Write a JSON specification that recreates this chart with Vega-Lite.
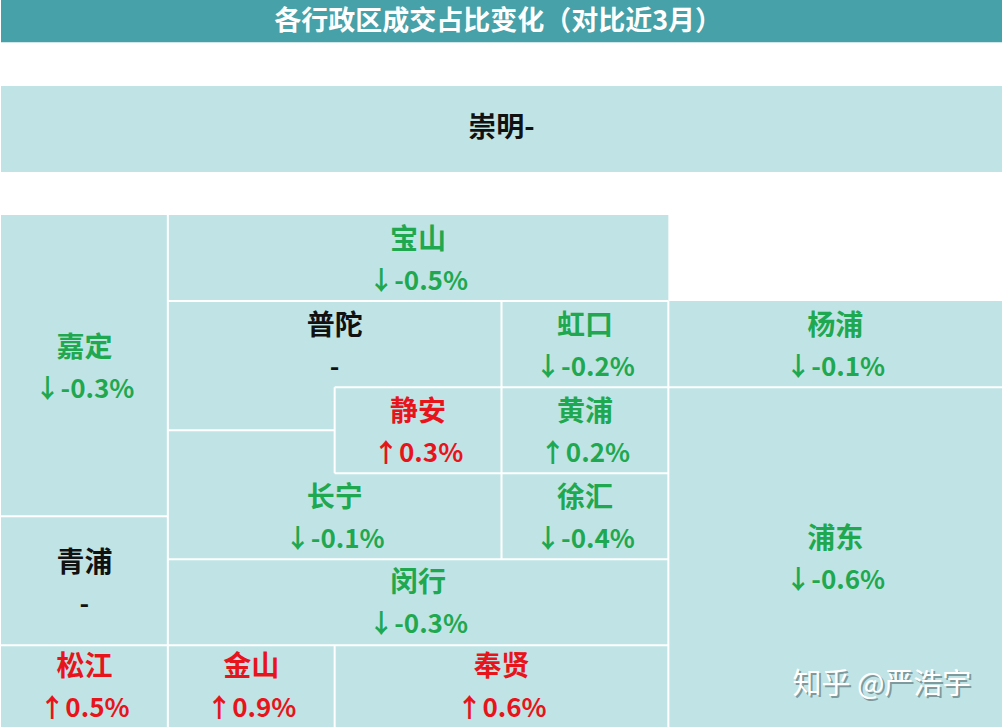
{
  "$schema": "https://vega.github.io/schema/vega-lite/v6.json",
  "width": 1003,
  "height": 728,
  "autosize": {"type": "fit", "contains": "padding"},
  "padding": 0,
  "background": "#ffffff",
  "config": {"view": {"stroke": null}},
  "datasets": {
    "header": [{"title": "各行政区成交占比变化（对比近3月）", "x": 0, "x2": 6, "y": 0, "y2": 0.49, "cx": 2.98, "cy": 0.255}],
    "tiles": [
      {"district": "崇明", "x": 0, "x2": 6, "y": 1.0, "y2": 2.0},
      {"district": "宝山", "x": 1, "x2": 4, "y": 2.5, "y2": 3.5},
      {"district": "嘉定", "x": 0, "x2": 1, "y": 2.5, "y2": 6.0},
      {"district": "普陀", "x": 1, "x2": 3, "y": 3.5, "y2": 4.5},
      {"district": "普陀", "x": 1, "x2": 2, "y": 4.45, "y2": 5.0},
      {"district": "虹口", "x": 3, "x2": 4, "y": 3.5, "y2": 4.5},
      {"district": "杨浦", "x": 4, "x2": 6, "y": 3.5, "y2": 4.5},
      {"district": "静安", "x": 2, "x2": 3, "y": 4.5, "y2": 5.5},
      {"district": "黄浦", "x": 3, "x2": 4, "y": 4.5, "y2": 5.5},
      {"district": "长宁", "x": 1, "x2": 2, "y": 5.0, "y2": 5.55},
      {"district": "长宁", "x": 1, "x2": 3, "y": 5.5, "y2": 6.5},
      {"district": "徐汇", "x": 3, "x2": 4, "y": 5.5, "y2": 6.5},
      {"district": "青浦", "x": 0, "x2": 1, "y": 6.0, "y2": 7.5},
      {"district": "闵行", "x": 1, "x2": 4, "y": 6.5, "y2": 7.5},
      {"district": "浦东", "x": 4, "x2": 6, "y": 4.5, "y2": 8.45},
      {"district": "松江", "x": 0, "x2": 1, "y": 7.5, "y2": 8.45},
      {"district": "金山", "x": 1, "x2": 2, "y": 7.5, "y2": 8.45},
      {"district": "奉贤", "x": 2, "x2": 4, "y": 7.5, "y2": 8.45}
    ],
    "borders": [
      {"x": 1, "x2": 4, "y": 3.5, "y2": 3.5},
      {"x": 2, "x2": 6, "y": 4.5, "y2": 4.5},
      {"x": 1, "x2": 2, "y": 5.0, "y2": 5.0},
      {"x": 2, "x2": 4, "y": 5.5, "y2": 5.5},
      {"x": 0, "x2": 1, "y": 6.0, "y2": 6.0},
      {"x": 1, "x2": 4, "y": 6.5, "y2": 6.5},
      {"x": 0, "x2": 4, "y": 7.5, "y2": 7.5},
      {"x": 1, "x2": 1, "y": 2.5, "y2": 8.45},
      {"x": 2, "x2": 2, "y": 4.5, "y2": 5.5},
      {"x": 2, "x2": 2, "y": 7.5, "y2": 8.45},
      {"x": 3, "x2": 3, "y": 3.5, "y2": 6.5},
      {"x": 4, "x2": 4, "y": 3.5, "y2": 8.45}
    ],
    "labels": [
      {"name": "崇明-", "change": "", "group": "持平", "cx": 3, "cy": 1.5},
      {"name": "宝山", "change": "↓-0.5%", "group": "下降", "cx": 2.5, "cy": 3.0},
      {"name": "嘉定", "change": "↓-0.3%", "group": "下降", "cx": 0.5, "cy": 4.25},
      {"name": "普陀", "change": "-", "group": "持平", "cx": 2, "cy": 4.0},
      {"name": "虹口", "change": "↓-0.2%", "group": "下降", "cx": 3.5, "cy": 4.0},
      {"name": "杨浦", "change": "↓-0.1%", "group": "下降", "cx": 5, "cy": 4.0},
      {"name": "静安", "change": "↑0.3%", "group": "上升", "cx": 2.5, "cy": 5.0},
      {"name": "黄浦", "change": "↑0.2%", "group": "下降", "cx": 3.5, "cy": 5.0},
      {"name": "长宁", "change": "↓-0.1%", "group": "下降", "cx": 2, "cy": 6.0},
      {"name": "徐汇", "change": "↓-0.4%", "group": "下降", "cx": 3.5, "cy": 6.0},
      {"name": "青浦", "change": "-", "group": "持平", "cx": 0.5, "cy": 6.75},
      {"name": "闵行", "change": "↓-0.3%", "group": "下降", "cx": 2.5, "cy": 6.98},
      {"name": "浦东", "change": "↓-0.6%", "group": "下降", "cx": 5, "cy": 6.475},
      {"name": "松江", "change": "↑0.5%", "group": "上升", "cx": 0.5, "cy": 7.96},
      {"name": "金山", "change": "↑0.9%", "group": "上升", "cx": 1.5, "cy": 7.96},
      {"name": "奉贤", "change": "↑0.6%", "group": "上升", "cx": 3, "cy": 7.96}
    ],
    "credit": [{"text": "知乎 @严浩宇", "cx": 5.28, "cy": 7.96}]
  },
  "resolve": {"scale": {"color": "independent"}},
  "layer": [
    {
      "data": {"name": "header"},
      "mark": {"type": "rect", "color": "#46a1a8"},
      "encoding": {
        "x": {"field": "x", "type": "quantitative", "scale": {"domain": [0, 6], "nice": false, "zero": false}, "axis": null},
        "x2": {"field": "x2"},
        "y": {"field": "y", "type": "quantitative", "scale": {"domain": [0, 8.45], "nice": false, "zero": false, "reverse": true}, "axis": null},
        "y2": {"field": "y2"}
      }
    },
    {
      "data": {"name": "header"},
      "mark": {"type": "text", "color": "#ffffff", "font": "Noto Sans CJK SC", "fontWeight": "bold", "fontSize": 27, "baseline": "middle", "align": "center"},
      "encoding": {
        "x": {"field": "cx", "type": "quantitative"},
        "y": {"field": "cy", "type": "quantitative"},
        "text": {"field": "title"}
      }
    },
    {
      "data": {"name": "tiles"},
      "mark": {"type": "rect", "color": "#c0e4e5", "strokeWidth": 0},
      "encoding": {
        "x": {"field": "x", "type": "quantitative"},
        "x2": {"field": "x2"},
        "y": {"field": "y", "type": "quantitative"},
        "y2": {"field": "y2"}
      }
    },
    {
      "data": {"name": "borders"},
      "mark": {"type": "rule", "color": "#ffffff", "strokeWidth": 2},
      "encoding": {
        "x": {"field": "x", "type": "quantitative"},
        "x2": {"field": "x2"},
        "y": {"field": "y", "type": "quantitative"},
        "y2": {"field": "y2"}
      }
    },
    {
      "data": {"name": "labels"},
      "transform": [{"filter": "datum.change != ''"}],
      "mark": {"type": "text", "font": "Noto Sans CJK SC", "fontWeight": "bold", "fontSize": 28, "baseline": "middle", "align": "center", "dy": -17},
      "encoding": {
        "x": {"field": "cx", "type": "quantitative"},
        "y": {"field": "cy", "type": "quantitative"},
        "text": {"field": "name"},
        "color": {"field": "group", "type": "nominal", "scale": {"domain": ["下降", "上升", "持平"], "range": ["#1fa84f", "#e8141b", "#111111"]}, "legend": null}
      }
    },
    {
      "data": {"name": "labels"},
      "transform": [{"filter": "datum.change != ''"}],
      "mark": {"type": "text", "font": "Noto Sans CJK SC", "fontWeight": "bold", "fontSize": 26, "baseline": "middle", "align": "center", "dy": 24},
      "encoding": {
        "x": {"field": "cx", "type": "quantitative"},
        "y": {"field": "cy", "type": "quantitative"},
        "text": {"field": "change"},
        "color": {"field": "group", "type": "nominal", "scale": {"domain": ["下降", "上升", "持平"], "range": ["#1fa84f", "#e8141b", "#111111"]}, "legend": null}
      }
    },
    {
      "data": {"name": "labels"},
      "transform": [{"filter": "datum.change == ''"}],
      "mark": {"type": "text", "font": "Noto Sans CJK SC", "fontWeight": "bold", "fontSize": 28, "baseline": "middle", "align": "center", "color": "#111111"},
      "encoding": {
        "x": {"field": "cx", "type": "quantitative"},
        "y": {"field": "cy", "type": "quantitative"},
        "text": {"field": "name"}
      }
    },
    {
      "data": {"name": "credit"},
      "mark": {"type": "text", "font": "Noto Sans CJK SC", "fontSize": 29, "baseline": "middle", "align": "center", "color": "#7f9a9c", "dx": 2, "dy": 2},
      "encoding": {
        "x": {"field": "cx", "type": "quantitative"},
        "y": {"field": "cy", "type": "quantitative"},
        "text": {"field": "text"}
      }
    },
    {
      "data": {"name": "credit"},
      "mark": {"type": "text", "font": "Noto Sans CJK SC", "fontSize": 29, "baseline": "middle", "align": "center", "color": "#ffffff"},
      "encoding": {
        "x": {"field": "cx", "type": "quantitative"},
        "y": {"field": "cy", "type": "quantitative"},
        "text": {"field": "text"}
      }
    }
  ]
}
